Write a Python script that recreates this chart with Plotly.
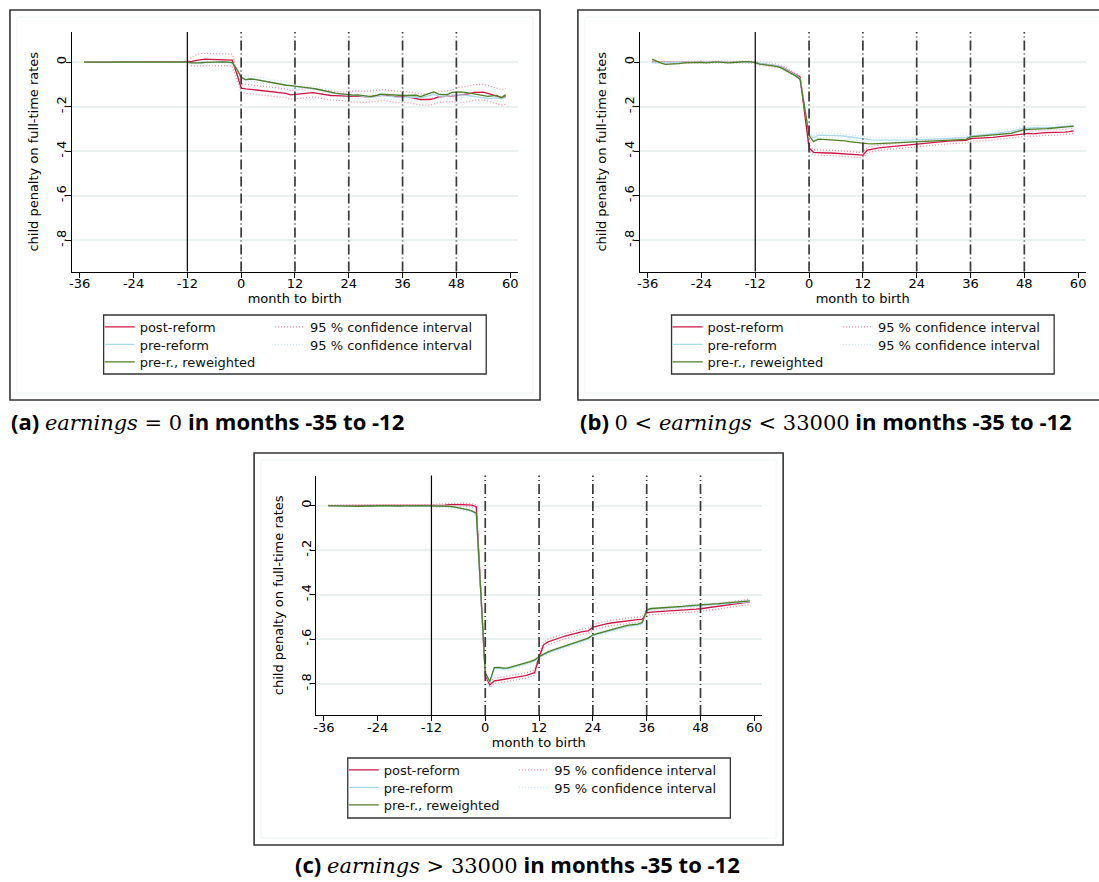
import plotly.graph_objects as go

# ---------------- data ----------------
months = list(range(-35, 60))
x_tickvals = [-36, -24, -12, 0, 12, 24, 36, 48, 60]
x_ticktext = ["-36", "-24", "-12", "0", "12", "24", "36", "48", "60"]
y_tickvals = [0, -0.2, -0.4, -0.6, -0.8]
y_ticktext = ["0", "-.2", "-.4", "-.6", "-.8"]
solid_month = -12
dashed_months = [0, 12, 24, 36, 48]
series_names = ["post-reform", "pre-reform", "pre-r., reweighted"]
ci_name = "95 % confidence interval"
x_title = "month to birth"
y_title = "child penalty on full-time rates"

# Panel (a): earnings = 0 in months -35 to -12
a_post = [0.0, 0.0, 0.0, 0.0, 0.0, 0.0, 0.0, 0.0, 0.0, 0.0, 0.0, 0.0,
          0.0, 0.0, 0.0, 0.0, 0.0, 0.0, 0.0, 0.0, 0.0, 0.0, 0.0, 0.0,
          0.003, 0.008, 0.012, 0.013, 0.012, 0.011, 0.010, 0.010, 0.011, 0.009, -0.050,
          -0.117, -0.120, -0.122, -0.124, -0.127, -0.129, -0.131, -0.133, -0.134, -0.136, -0.140, -0.147,
          -0.145, -0.143, -0.140, -0.138, -0.137, -0.140, -0.144, -0.147, -0.150, -0.151, -0.152, -0.154,
          -0.155, -0.154, -0.153, -0.155, -0.156, -0.154, -0.152, -0.150, -0.148, -0.152, -0.155, -0.156,
          -0.156, -0.157, -0.160, -0.164, -0.168, -0.168, -0.168, -0.164, -0.156, -0.155, -0.155, -0.152,
          -0.150, -0.148, -0.145, -0.142, -0.136, -0.134, -0.135, -0.140, -0.145, -0.152, -0.158, -0.155]
a_pre = [0.0, 0.0, 0.0, 0.0, 0.0, 0.0, 0.0, 0.0, 0.0, 0.0, 0.0, 0.0,
         0.0, 0.0, 0.0, 0.0, 0.0, 0.0, 0.0, 0.0, 0.0, 0.0, 0.0, 0.0,
         -0.004, -0.005, -0.003, -0.001, 0.000, 0.000, 0.001, 0.000, -0.001, -0.003, -0.032,
         -0.066, -0.077, -0.074, -0.077, -0.081, -0.085, -0.089, -0.093, -0.097, -0.101, -0.104, -0.106,
         -0.109, -0.111, -0.113, -0.116, -0.120, -0.124, -0.129, -0.133, -0.137, -0.141, -0.144, -0.147,
         -0.150, -0.151, -0.151, -0.153, -0.156, -0.158, -0.155, -0.151, -0.152, -0.155, -0.157, -0.158,
         -0.159, -0.158, -0.158, -0.157, -0.160, -0.155, -0.150, -0.146, -0.152, -0.154, -0.154, -0.148,
         -0.146, -0.147, -0.149, -0.152, -0.155, -0.158, -0.160, -0.163, -0.162, -0.161, -0.165, -0.160]
a_rew = [0.0, 0.0, 0.0, 0.0, 0.0, 0.0, 0.0, 0.0, 0.0, 0.0, 0.0, 0.0,
         0.0, 0.0, 0.0, 0.0, 0.0, 0.0, 0.0, 0.0, 0.0, 0.0, 0.0, 0.0,
         -0.004, -0.005, -0.003, -0.001, 0.000, 0.001, 0.001, 0.001, 0.000, -0.002, -0.030,
         -0.068, -0.080, -0.076, -0.078, -0.082, -0.086, -0.090, -0.094, -0.098, -0.102, -0.104, -0.106,
         -0.108, -0.110, -0.112, -0.114, -0.118, -0.122, -0.127, -0.131, -0.135, -0.139, -0.142, -0.145,
         -0.148, -0.148, -0.147, -0.149, -0.152, -0.155, -0.150, -0.144, -0.145, -0.147, -0.148, -0.149,
         -0.150, -0.150, -0.151, -0.149, -0.155, -0.146, -0.140, -0.134, -0.144, -0.146, -0.146, -0.136,
         -0.134, -0.134, -0.136, -0.140, -0.143, -0.146, -0.150, -0.154, -0.152, -0.150, -0.160, -0.146]
a_post_ci = [0.0] * 24 + [0.020, 0.025, 0.027, 0.027, 0.027, 0.027, 0.027, 0.027, 0.027, 0.027, 0.024] \
    + [0.020] * 24 + [0.025] * 24 + [0.035] * 12
a_pre_ci = [0.0] * 24 + [0.006] * 11 + [0.012] * 60

# Panel (b): 0 < earnings < 33000 in months -35 to -12
b_post = [0.000, -0.001, -0.002, -0.003, -0.003, -0.002, -0.002, -0.001, 0.000, 0.000, 0.001, 0.000,
          -0.001, 0.000, 0.001, 0.000, -0.001, -0.001, 0.000, 0.000, 0.001, 0.001, 0.000, -0.001,
          -0.007, -0.010, -0.012, -0.014, -0.017, -0.024, -0.034, -0.045, -0.056, -0.068, -0.220,
          -0.385, -0.405, -0.407, -0.408, -0.408, -0.408, -0.409, -0.410, -0.412, -0.413, -0.414, -0.415,
          -0.418, -0.395, -0.390, -0.387, -0.384, -0.382, -0.380, -0.378, -0.376, -0.374, -0.372, -0.370,
          -0.367, -0.364, -0.362, -0.360, -0.358, -0.357, -0.356, -0.355, -0.354, -0.353, -0.352, -0.351,
          -0.344, -0.342, -0.341, -0.340, -0.339, -0.338, -0.336, -0.334, -0.332, -0.330, -0.327, -0.324,
          -0.322, -0.320, -0.322, -0.319, -0.318, -0.317, -0.317, -0.316, -0.316, -0.314, -0.312, -0.309]
b_pre = [-0.002, -0.002, -0.003, -0.004, -0.004, -0.003, -0.002, -0.001, -0.001, 0.000, 0.000, -0.001,
         -0.002, -0.001, 0.000, 0.000, -0.001, -0.002, -0.001, 0.000, 0.001, 0.001, 0.000, -0.001,
         -0.006, -0.009, -0.011, -0.013, -0.017, -0.025, -0.036, -0.048, -0.058, -0.074, -0.190,
         -0.325, -0.340, -0.329, -0.328, -0.328, -0.329, -0.330, -0.331, -0.333, -0.336, -0.340, -0.343,
         -0.346, -0.348, -0.349, -0.350, -0.350, -0.351, -0.351, -0.352, -0.352, -0.352, -0.351, -0.350,
         -0.349, -0.348, -0.347, -0.346, -0.345, -0.344, -0.343, -0.343, -0.342, -0.342, -0.341, -0.339,
         -0.332, -0.329, -0.327, -0.325, -0.323, -0.321, -0.319, -0.317, -0.315, -0.311, -0.306, -0.300,
         -0.297, -0.296, -0.296, -0.295, -0.295, -0.294, -0.293, -0.292, -0.291, -0.289, -0.286, -0.284]
b_rew = [0.013, 0.003, -0.005, -0.010, -0.010, -0.009, -0.007, -0.004, -0.003, -0.001, 0.000, -0.001,
         -0.004, -0.001, 0.000, 0.000, -0.002, -0.004, -0.002, 0.000, 0.001, 0.002, 0.001, -0.002,
         -0.009, -0.012, -0.014, -0.016, -0.020, -0.028, -0.040, -0.052, -0.062, -0.078, -0.200,
         -0.330, -0.357, -0.346, -0.347, -0.348, -0.349, -0.350, -0.352, -0.354, -0.357, -0.360, -0.362,
         -0.365, -0.366, -0.367, -0.367, -0.366, -0.365, -0.364, -0.363, -0.362, -0.361, -0.360, -0.359,
         -0.358, -0.357, -0.356, -0.355, -0.354, -0.353, -0.352, -0.352, -0.351, -0.350, -0.350, -0.347,
         -0.336, -0.334, -0.333, -0.332, -0.331, -0.329, -0.327, -0.325, -0.323, -0.320, -0.314, -0.308,
         -0.303, -0.302, -0.302, -0.301, -0.300, -0.299, -0.297, -0.296, -0.295, -0.293, -0.290, -0.288]
b_post_ci = [0.004] * 24 + [0.008] * 11 + [0.012] * 60
b_pre_ci = [0.003] * 24 + [0.006] * 11 + [0.010] * 60

# Panel (c): earnings > 33000 in months -35 to -12
c_post = [0.000, 0.000, -0.001, -0.001, -0.001, 0.000, -0.001, -0.001, 0.000, -0.001, 0.000, 0.001,
          0.000, -0.001, -0.001, 0.000, 0.000, 0.000, 0.001, 0.000, 0.000, 0.001, 0.000, 0.000,
          0.000, 0.001, 0.002, 0.004, 0.005, 0.005, 0.004, 0.003, 0.002, -0.005, -0.380,
          -0.760, -0.805, -0.787, -0.784, -0.781, -0.778, -0.775, -0.771, -0.767, -0.763, -0.757, -0.750,
          -0.680, -0.625, -0.612, -0.604, -0.597, -0.591, -0.585, -0.579, -0.574, -0.569, -0.565, -0.562,
          -0.546, -0.540, -0.535, -0.531, -0.527, -0.524, -0.521, -0.518, -0.515, -0.513, -0.512, -0.511,
          -0.482, -0.478, -0.477, -0.476, -0.475, -0.474, -0.473, -0.472, -0.470, -0.469, -0.467, -0.465,
          -0.463, -0.460, -0.457, -0.454, -0.451, -0.448, -0.445, -0.442, -0.439, -0.437, -0.435, -0.432]
c_pre = [0.000, -0.001, -0.002, -0.003, -0.003, -0.002, -0.003, -0.003, -0.002, -0.003, -0.002, 0.000,
         -0.001, -0.002, -0.002, -0.002, -0.002, -0.001, 0.000, 0.000, -0.001, 0.000, -0.001, -0.001,
         -0.001, -0.002, -0.003, -0.005, -0.007, -0.010, -0.014, -0.019, -0.025, -0.036, -0.395,
         -0.754, -0.794, -0.731, -0.730, -0.734, -0.733, -0.728, -0.722, -0.716, -0.710, -0.704, -0.697,
         -0.682, -0.671, -0.661, -0.653, -0.646, -0.639, -0.632, -0.625, -0.618, -0.611, -0.604, -0.599,
         -0.584, -0.578, -0.572, -0.566, -0.560, -0.555, -0.550, -0.545, -0.541, -0.538, -0.536, -0.529,
         -0.471, -0.465, -0.464, -0.463, -0.461, -0.460, -0.458, -0.456, -0.455, -0.453, -0.451, -0.449,
         -0.448, -0.447, -0.446, -0.444, -0.443, -0.441, -0.439, -0.437, -0.435, -0.434, -0.433, -0.431]
c_rew = [0.000, -0.001, -0.002, -0.003, -0.002, -0.002, -0.003, -0.004, -0.002, -0.003, -0.002, 0.000,
         -0.001, -0.002, -0.003, -0.002, -0.002, -0.001, 0.000, 0.000, -0.001, 0.000, -0.001, -0.001,
         -0.001, -0.002, -0.003, -0.004, -0.006, -0.009, -0.013, -0.018, -0.024, -0.034, -0.390,
         -0.750, -0.790, -0.727, -0.726, -0.730, -0.729, -0.724, -0.718, -0.712, -0.706, -0.700, -0.693,
         -0.678, -0.667, -0.657, -0.649, -0.642, -0.635, -0.628, -0.621, -0.614, -0.607, -0.600, -0.595,
         -0.580, -0.574, -0.568, -0.562, -0.556, -0.551, -0.546, -0.541, -0.537, -0.534, -0.532, -0.525,
         -0.468, -0.462, -0.461, -0.460, -0.458, -0.457, -0.455, -0.453, -0.452, -0.450, -0.448, -0.446,
         -0.445, -0.444, -0.443, -0.441, -0.440, -0.438, -0.436, -0.434, -0.432, -0.431, -0.430, -0.428]
c_post_ci = [0.003] * 24 + [0.007] * 11 + [0.012] * 60
c_pre_ci = [0.002] * 24 + [0.005] * 11 + [0.008] * 60

MATH = "<span style=\"font-family:'DejaVu Serif',serif;font-weight:normal;font-size:21px\">{}</span>"
captions = [
    "<b>(a)</b> " + MATH.format("<i>earnings</i> = 0") + " <b>in months -35 to -12</b>",
    "<b>(b)</b> " + MATH.format("0 &lt; <i>earnings</i> &lt; 33000") + " <b>in months -35 to -12</b>",
    "<b>(c)</b> " + MATH.format("<i>earnings</i> &gt; 33000") + " <b>in months -35 to -12</b>",
]

# ---------------- style ----------------
W, H = 1099, 882
RED, BLUE, GREEN = "#cf1443", "#a9d9ec", "#4f7f25"
RED_CI, BLUE_CI = "#f08aa3", "#c9e7f3"
FONT = "DejaVu Sans"
X_RANGE = [-37.8, 61.7]
Y_RANGE = [-0.94, 0.135]


def px(x):
    return x / W


def py(y):
    return 1 - y / H


# panel geometry in pixels: frame, axes domain, legend box, column text starts, caption
panels = [
    dict(data=(a_post, a_pre, a_rew, a_post_ci, a_pre_ci), frame=(7, 10, 539, 400),
         xdom=(68.9, 516.7), ydom=(32, 271.5), leg=(101, 315, 485, 374),
         col1=137, col2=308, cap=(6, 421, "left")),
    dict(data=(b_post, b_pre, b_rew, b_post_ci, b_pre_ci), frame=(577, 10, 1109, 400),
         xdom=(638.9, 1086.7), ydom=(32, 271.5), leg=(671, 315, 1055, 374),
         col1=707, col2=878, cap=(577, 421, "left")),
    dict(data=(c_post, c_pre, c_rew, c_post_ci, c_pre_ci), frame=(252, 453, 783, 845),
         xdom=(313.9, 761.7), ydom=(475.5, 715), leg=(346, 758, 730, 818),
         col1=382, col2=553, cap=(516, 864, "center")),
]
row_offsets = [12, 29.5, 47]   # legend row centres below the legend box top

fig = go.Figure()
shapes = []
annotations = []
layout_extra = {}
legend_count = [0]


def new_legend(x_text, y_center):
    legend_count[0] += 1
    k = legend_count[0]
    name = "legend" if k == 1 else "legend" + str(k)
    layout_extra[name] = dict(
        bgcolor="rgba(0,0,0,0)", borderwidth=0, xanchor="left", yanchor="top",
        orientation="v", itemwidth=30, tracegroupgap=0, visible=True,
        font=dict(family=FONT, size=13, color="#111111"), itemclick=False,
        itemdoubleclick=False, x=px(x_text - 40), y=py(y_center - 15))
    return name


for i, p in enumerate(panels):
    n = "" if i == 0 else str(i + 1)
    xa, ya = "x" + n, "y" + n
    post, pre, rew, post_ci, pre_ci = p["data"]
    lx0, ly0, lx1, ly1 = p["leg"]

    lg_post = new_legend(p["col1"], ly0 + row_offsets[0])
    lg_pre = new_legend(p["col1"], ly0 + row_offsets[1])
    lg_rew = new_legend(p["col1"], ly0 + row_offsets[2])
    lg_ci_r = new_legend(p["col2"], ly0 + row_offsets[0])
    lg_ci_b = new_legend(p["col2"], ly0 + row_offsets[1])

    post_hi = [v + h for v, h in zip(post, post_ci)]
    post_lo = [v - h for v, h in zip(post, post_ci)]
    pre_hi = [v + h for v, h in zip(pre, pre_ci)]
    pre_lo = [v - h for v, h in zip(pre, pre_ci)]

    ci_line_r = dict(color=RED_CI, width=1.2, dash="1px,2px")
    ci_line_b = dict(color=BLUE_CI, width=1.2, dash="1px,2px")
    fig.add_trace(go.Scatter(x=months, y=post_hi, mode="lines", line=ci_line_r, name=ci_name,
                             xaxis=xa, yaxis=ya, legend=lg_ci_r, showlegend=True, hoverinfo="skip"))
    fig.add_trace(go.Scatter(x=months, y=post_lo, mode="lines", line=ci_line_r, name=ci_name,
                             xaxis=xa, yaxis=ya, legend=lg_ci_r, showlegend=False, hoverinfo="skip"))
    fig.add_trace(go.Scatter(x=months, y=pre_hi, mode="lines", line=ci_line_b, name=ci_name,
                             xaxis=xa, yaxis=ya, legend=lg_ci_b, showlegend=True, hoverinfo="skip"))
    fig.add_trace(go.Scatter(x=months, y=pre_lo, mode="lines", line=ci_line_b, name=ci_name,
                             xaxis=xa, yaxis=ya, legend=lg_ci_b, showlegend=False, hoverinfo="skip"))
    fig.add_trace(go.Scatter(x=months, y=post, mode="lines", line=dict(color=RED, width=1.3),
                             name=series_names[0], xaxis=xa, yaxis=ya, legend=lg_post, showlegend=True))
    fig.add_trace(go.Scatter(x=months, y=pre, mode="lines", line=dict(color=BLUE, width=1.3),
                             name=series_names[1], xaxis=xa, yaxis=ya, legend=lg_pre, showlegend=True))
    fig.add_trace(go.Scatter(x=months, y=rew, mode="lines", line=dict(color=GREEN, width=1.3),
                             name=series_names[2], xaxis=xa, yaxis=ya, legend=lg_rew, showlegend=True))

    x0, x1 = p["xdom"]
    yt, yb = p["ydom"]
    layout_extra["xaxis" + n] = dict(
        domain=[px(x0), px(x1)], anchor=ya, range=X_RANGE, tickmode="array",
        tickvals=x_tickvals, ticktext=x_ticktext, ticks="outside", ticklen=5, tickwidth=1,
        tickcolor="black", showline=True, linecolor="black", linewidth=1, showgrid=False,
        zeroline=False, tickfont=dict(family=FONT, size=13, color="black"),
        title=dict(text=x_title, font=dict(family=FONT, size=13, color="black"), standoff=2),
        fixedrange=True)
    layout_extra["yaxis" + n] = dict(
        domain=[py(yb), py(yt)], anchor=xa, range=Y_RANGE, tickmode="array",
        tickvals=y_tickvals, ticktext=y_ticktext, ticks="outside", ticklen=5, tickwidth=1,
        tickcolor="black", tickangle=-90, showline=True, linecolor="black", linewidth=1,
        showgrid=True, gridcolor="#e9f1f1", gridwidth=1.5, zeroline=False,
        tickfont=dict(family=FONT, size=13, color="black"),
        title=dict(text=y_title, font=dict(family=FONT, size=13, color="black"), standoff=12),
        fixedrange=True)

    # reference lines
    shapes.append(dict(type="line", xref=xa, yref=ya + " domain", x0=solid_month, x1=solid_month,
                       y0=0, y1=1, line=dict(color="black", width=1.2)))
    for m in dashed_months:
        shapes.append(dict(type="line", xref=xa, yref=ya + " domain", x0=m, x1=m, y0=0, y1=1,
                           line=dict(color="#3a3a3a", width=1.7, dash="10px,3px,1px,3px")))

    # outer frame and faint inner region
    fx0, fy0, fx1, fy1 = p["frame"]
    shapes.append(dict(type="rect", xref="paper", yref="paper", x0=px(fx0 + 7), x1=px(fx1 - 7),
                       y0=py(fy1 - 7), y1=py(fy0 + 7), line=dict(color="#eef4f4", width=1)))
    shapes.append(dict(type="rect", xref="paper", yref="paper", x0=px(fx0), x1=px(fx1),
                       y0=py(fy1), y1=py(fy0), line=dict(color="#353535", width=1.6)))
    # legend border
    shapes.append(dict(type="rect", xref="paper", yref="paper", x0=px(lx0), x1=px(lx1),
                       y0=py(ly1), y1=py(ly0), line=dict(color="#333333", width=1.3)))

    cx, cy, anc = p["cap"]
    annotations.append(dict(text=captions[i], xref="paper", yref="paper", x=px(cx), y=py(cy),
                            xanchor=anc, yanchor="middle", showarrow=False,
                            font=dict(family="Open Sans", size=22, color="black")))

fig.update_layout(
    width=W, height=H, margin=dict(l=0, r=0, t=0, b=0), showlegend=True,
    paper_bgcolor="white", plot_bgcolor="white",
    shapes=shapes, annotations=annotations, **layout_extra)

# tick labels sit close to the tick marks in the reference
for n in ["", "2", "3"]:
    try:
        fig.layout["xaxis" + n].ticklabelstandoff = -5
        fig.layout["yaxis" + n].ticklabelstandoff = -6
    except ValueError:
        pass

fig.write_html("out.html", config={"displayModeBar": False},
               post_script="document.body.style.margin='0';document.body.style.overflow='hidden';")
